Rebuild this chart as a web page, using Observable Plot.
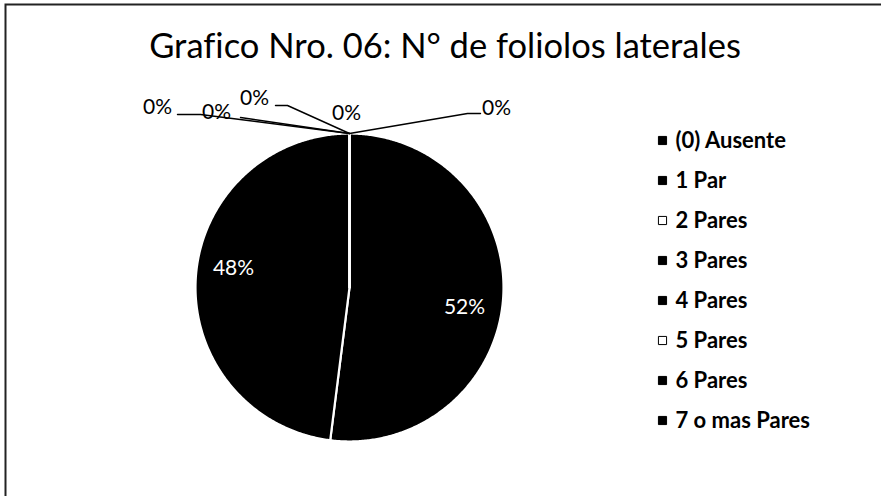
<!DOCTYPE html>
<html><head><meta charset="utf-8">
<script src="https://cdn.jsdelivr.net/npm/d3@7"></script>
<script src="https://cdn.jsdelivr.net/npm/@observablehq/plot@0.6"></script>
<style>html,body{margin:0;padding:0;background:#fff;overflow:hidden;}</style>
</head><body><div id="chart"></div>
<script>
// ---- data ----
const title = "Grafico Nro. 06: N° de foliolos laterales";
const categories = ["(0) Ausente","1 Par","2 Pares","3 Pares","4 Pares","5 Pares","6 Pares","7 o mas Pares"];
const percents = [0, 0, 0, 52, 48, 0, 0, 0];

// ---- styles ----
const sliceFill = "#000";
const legendFill = ["#000","#000","#fff","#000","#000","#fff","#000","#000"];
const FONT = "Lato, 'Open Sans', sans-serif";

// ---- layout (pixels) ----
const W = 881, H = 496, CX = 349, CY = 287, R = 154;
const LEG_X = 662, LEG_TX = 675, LEG_Y0 = 140, LEG_STEP = 40;
// label placement (pixels): text centre, optional elbow and tail of leader line
const labelLayout = [
  {tx: 496, ty: 108, elbow: [467, 113], tail: [480, 113]},
  {tx: 346, ty: 113},
  {tx: 346, ty: 113, occluded: true},
  {tx: 464, ty: 307, inside: true},
  {tx: 233, ty: 268, inside: true},
  {tx: 254, ty: 98, elbow: [287, 105], tail: [275, 105]},
  {tx: 216, ty: 112, elbow: [240, 117]},
  {tx: 157, ty: 107, elbow: [200, 114], tail: [177, 114]}
];

const ux = px => (px - CX) / R;
const uy = py => (CY - py) / R;

// slices
const slices = [];
let cum = 0;
categories.forEach((c, i) => {
  const a0 = cum / 100 * 2 * Math.PI;
  cum += percents[i];
  const a1 = cum / 100 * 2 * Math.PI;
  slices.push({cat: c, x: 0, y: 0});
  const n = Math.max(1, Math.ceil((a1 - a0) / (Math.PI / 360)));
  for (let k = 0; k <= n; k++) {
    const a = a0 + (a1 - a0) * k / n;
    slices.push({cat: c, x: Math.sin(a), y: Math.cos(a)});
  }
  slices.push({cat: c, x: 0, y: 0});
});

// labels and leader lines
const labelData = [];
const leaders = [];
cum = 0;
categories.forEach((c, i) => {
  const mid = (cum + percents[i] / 2) / 100 * 2 * Math.PI;
  cum += percents[i];
  const L = labelLayout[i];
  if (!L.occluded) labelData.push({cat: c, text: percents[i] + "%", x: ux(L.tx), y: uy(L.ty), inside: !!L.inside});
  if (L.elbow) {
    leaders.push({cat: c, x: Math.sin(mid), y: Math.cos(mid)});
    leaders.push({cat: c, x: ux(L.elbow[0]), y: uy(L.elbow[1])});
    if (L.tail) leaders.push({cat: c, x: ux(L.tail[0]), y: uy(L.tail[1])});
  }
});

const legend = categories.map((c, i) => ({
  cat: c, i, x: ux(LEG_X), tx: ux(LEG_TX), y: uy(LEG_Y0 + i * LEG_STEP)
}));

const plot = Plot.plot({
  width: W, height: H,
  margin: 0,
  style: {fontFamily: FONT, background: "#fff", overflow: "hidden"},
  x: {domain: [ux(0), ux(W)], range: [0, W], axis: null},
  y: {domain: [uy(H), uy(0)], range: [H, 0], axis: null},
  marks: [
    Plot.frame({stroke: "#222", strokeWidth: 2, insetLeft: 5, insetTop: 4, insetRight: -60, insetBottom: -60}),
    Plot.text([title], {frameAnchor: "top", dx: 4, dy: 33, lineAnchor: "top", fontSize: 34.5, fill: "#000", fontVariantLigatures: "none", style: "font-variant-ligatures: none"}),
    Plot.line(slices, {x: "x", y: "y", z: "cat", fill: sliceFill, stroke: "#fff", strokeWidth: 2.2, strokeLinejoin: "round"}),
    Plot.line(leaders, {x: "x", y: "y", z: "cat", stroke: "#000", strokeWidth: 1.4}),
    Plot.text(labelData.filter(d => !d.inside), {x: "x", y: "y", text: "text", fontSize: 21, fill: "#000"}),
    Plot.text(labelData.filter(d => d.inside), {x: "x", y: "y", text: "text", fontSize: 21, fill: "#fff"}),
    Plot.dot(legend, {x: "x", y: "y", symbol: "square", r: 4.6, fill: (d) => legendFill[d.i], stroke: "#000", strokeWidth: 1}),
    Plot.text(legend, {x: "tx", y: "y", text: "cat", textAnchor: "start", fontSize: 22, fontWeight: "bold", fill: "#000"})
  ]
});
plot.querySelectorAll("text").forEach(t => t.style.fontVariantLigatures = "none");
document.getElementById("chart").appendChild(plot);
</script>
</body></html>
